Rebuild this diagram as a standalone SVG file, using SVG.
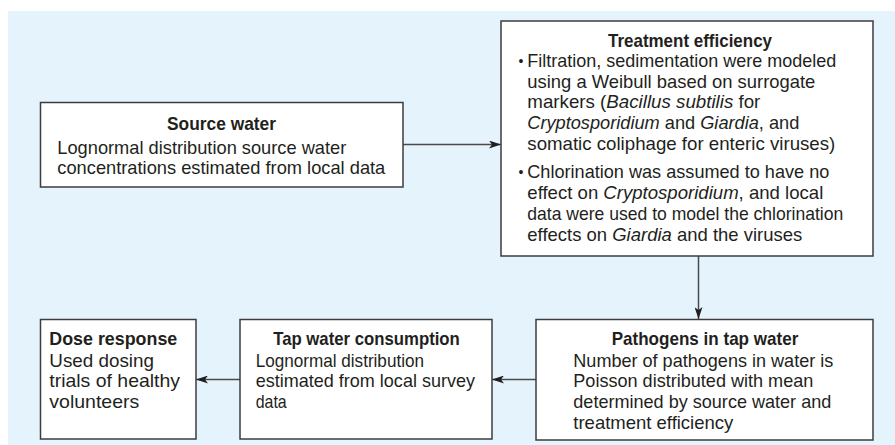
<svg xmlns="http://www.w3.org/2000/svg" width="895" height="445" viewBox="0 0 895 445">
<style>
.box{fill:#ffffff;stroke:#3c3c3c;stroke-width:1.5}
.t{font-family:"Liberation Sans",Arial,sans-serif;font-size:18.5px;fill:#231f20}
.b{font-weight:bold}
.c{text-anchor:middle}
.i{font-style:italic}
.bul{font-size:14px}
.con{stroke:#4a4a4a;stroke-width:1.5;fill:none;marker-end:url(#ah)}
</style>
<defs>
<marker id="ah" viewBox="0 0 12 8" refX="12" refY="4" markerWidth="12" markerHeight="8" markerUnits="userSpaceOnUse" orient="auto">
<path d="M0,0 L12,4 L0,8 L3,4 z" fill="#231f20"/>
</marker>
</defs>
<rect x="8" y="11" width="887" height="434" fill="#e5f4fc"/>
<g id="connectors">
<line class="con" x1="403" y1="144.5" x2="501" y2="144.5"/>
<line class="con" x1="698.5" y1="256" x2="698.5" y2="319"/>
<line class="con" x1="536" y1="379.5" x2="492" y2="379.5"/>
<line class="con" x1="240" y1="379.5" x2="196" y2="379.5"/>
</g>
<g id="source-water">
<rect class="box" x="40.5" y="102.5" width="362.5" height="84.5"/>
<text class="t b c" x="221.5" y="129.5" textLength="109" lengthAdjust="spacingAndGlyphs">Source water</text>
<text class="t" x="57.3" y="154" textLength="289" lengthAdjust="spacingAndGlyphs">Lognormal distribution source water</text>
<text class="t" x="57.3" y="174.3" textLength="328" lengthAdjust="spacingAndGlyphs">concentrations estimated from local data</text>
</g>
<g id="treatment-efficiency">
<rect class="box" x="501" y="21" width="372" height="235"/>
<text class="t b c" x="690" y="46.7" textLength="164" lengthAdjust="spacingAndGlyphs">Treatment efficiency</text>
<text class="t bul" x="518.5" y="65.5">•</text>
<text class="t" x="527.3" y="67" textLength="309" lengthAdjust="spacingAndGlyphs">Filtration, sedimentation were modeled</text>
<text class="t" x="527.3" y="87.7" textLength="288" lengthAdjust="spacingAndGlyphs">using a Weibull based on surrogate</text>
<text class="t" x="527.3" y="108.3" textLength="233" lengthAdjust="spacingAndGlyphs">markers (<tspan class="i">Bacillus subtilis</tspan> for</text>
<text class="t" x="527.3" y="129" textLength="272" lengthAdjust="spacingAndGlyphs"><tspan class="i">Cryptosporidium</tspan> and <tspan class="i">Giardia</tspan>, and</text>
<text class="t" x="527.3" y="149.7" textLength="308" lengthAdjust="spacingAndGlyphs">somatic coliphage for enteric viruses)</text>
<text class="t bul" x="518.5" y="176.8">•</text>
<text class="t" x="527.3" y="178.3" textLength="302" lengthAdjust="spacingAndGlyphs">Chlorination was assumed to have no</text>
<text class="t" x="527.3" y="199" textLength="296" lengthAdjust="spacingAndGlyphs">effect on <tspan class="i">Cryptosporidium</tspan>, and local</text>
<text class="t" x="527.3" y="220" textLength="316" lengthAdjust="spacingAndGlyphs">data were used to model the chlorination</text>
<text class="t" x="527.3" y="240.8" textLength="275" lengthAdjust="spacingAndGlyphs">effects on <tspan class="i">Giardia</tspan> and the viruses</text>
</g>
<g id="pathogens-in-tap-water">
<rect class="box" x="536" y="319.5" width="337" height="120.5"/>
<text class="t b c" x="705" y="345" textLength="186.7" lengthAdjust="spacingAndGlyphs">Pathogens in tap water</text>
<text class="t" x="573.3" y="366.7" textLength="260" lengthAdjust="spacingAndGlyphs">Number of pathogens in water is</text>
<text class="t" x="573.3" y="387.3" textLength="240" lengthAdjust="spacingAndGlyphs">Poisson distributed with mean</text>
<text class="t" x="573.3" y="408" textLength="258" lengthAdjust="spacingAndGlyphs">determined by source water and</text>
<text class="t" x="573.3" y="428.5" textLength="160" lengthAdjust="spacingAndGlyphs">treatment efficiency</text>
</g>
<g id="tap-water-consumption">
<rect class="box" x="240" y="319.5" width="252" height="119.5"/>
<text class="t b c" x="366.5" y="345" textLength="186.7" lengthAdjust="spacingAndGlyphs">Tap water consumption</text>
<text class="t" x="255.7" y="366.7" textLength="168.3" lengthAdjust="spacingAndGlyphs">Lognormal distribution</text>
<text class="t" x="255.7" y="387.3" textLength="219.3" lengthAdjust="spacingAndGlyphs">estimated from local survey</text>
<text class="t" x="255.7" y="408" textLength="31" lengthAdjust="spacingAndGlyphs">data</text>
</g>
<g id="dose-response">
<rect class="box" x="40.5" y="319.5" width="155.5" height="119.5"/>
<text class="t b" x="49.3" y="345" textLength="128" lengthAdjust="spacingAndGlyphs">Dose response</text>
<text class="t" x="49.3" y="366.7" textLength="104.7" lengthAdjust="spacingAndGlyphs">Used dosing</text>
<text class="t" x="49.3" y="387.3" textLength="130.7" lengthAdjust="spacingAndGlyphs">trials of healthy</text>
<text class="t" x="49.3" y="408" textLength="90" lengthAdjust="spacingAndGlyphs">volunteers</text>
</g>
</svg>
